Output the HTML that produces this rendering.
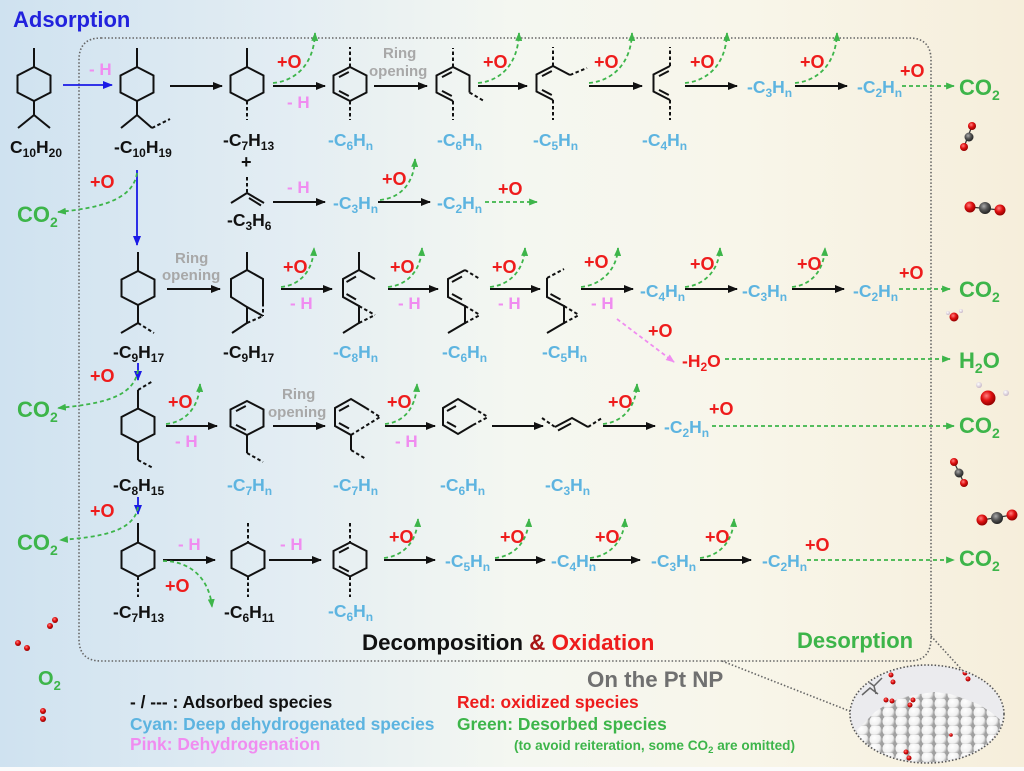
<!DOCTYPE html>
<html><head><meta charset="utf-8"><style>
html,body{margin:0;padding:0;background:#fff}
svg{display:block}
text{font-family:"Liberation Sans",Arial,sans-serif;font-weight:bold}
.k{fill:#111}.r{fill:#ee1c1c}.g{fill:#3db54a}.c{fill:#5db4e0}.p{fill:#f08cf0}.gy{fill:#a8a8a8}
.m{fill:none;stroke:#111;stroke-width:2}
.d{fill:none;stroke:#111;stroke-width:2;stroke-dasharray:3.5 2.5}
.ar{stroke:#111;stroke-width:2;marker-end:url(#mk)}
.gc{fill:none;stroke:#3db54a;stroke-width:1.8;stroke-dasharray:4 3;marker-end:url(#mg)}
</style></head><body>
<svg width="1024" height="771" viewBox="0 0 1024 771" xmlns="http://www.w3.org/2000/svg">
<defs>
<linearGradient id="bg" x1="0" y1="0" x2="1" y2="0">
<stop offset="0" stop-color="#cfe2f0"/><stop offset="0.28" stop-color="#e3edf3"/><stop offset="0.5" stop-color="#f4f7f1"/><stop offset="0.72" stop-color="#f8f6ea"/><stop offset="1" stop-color="#f6eedb"/>
</linearGradient>
<marker id="mk" viewBox="0 0 10 8" refX="9" refY="4" markerWidth="10" markerHeight="8" markerUnits="userSpaceOnUse" orient="auto"><path d="M0,0L10,4L0,8z" fill="#111"/></marker>
<marker id="mb" viewBox="0 0 10 8" refX="9" refY="4" markerWidth="10" markerHeight="8" markerUnits="userSpaceOnUse" orient="auto"><path d="M0,0L10,4L0,8z" fill="#1a1ae6"/></marker>
<marker id="mg" viewBox="0 0 10 8" refX="9" refY="4" markerWidth="9" markerHeight="7" markerUnits="userSpaceOnUse" orient="auto"><path d="M0,0L10,4L0,8z" fill="#3db54a"/></marker>
<marker id="mp" viewBox="0 0 10 8" refX="9" refY="4" markerWidth="9" markerHeight="7" markerUnits="userSpaceOnUse" orient="auto"><path d="M0,0L10,4L0,8z" fill="#f08cf0"/></marker>
<radialGradient id="sg" cx="0.4" cy="0.35" r="0.65"><stop offset="0" stop-color="#ffffff"/><stop offset="0.7" stop-color="#f0f0f0"/><stop offset="1" stop-color="#b0b0b0"/></radialGradient>
<radialGradient id="rg" cx="0.4" cy="0.35" r="0.65"><stop offset="0" stop-color="#ff8080"/><stop offset="0.5" stop-color="#e01010"/><stop offset="1" stop-color="#900000"/></radialGradient>
<radialGradient id="cg" cx="0.4" cy="0.35" r="0.65"><stop offset="0" stop-color="#aaa"/><stop offset="0.5" stop-color="#555"/><stop offset="1" stop-color="#222"/></radialGradient>
<radialGradient id="hg" cx="0.4" cy="0.35" r="0.65"><stop offset="0" stop-color="#fff"/><stop offset="1" stop-color="#c8b8c8"/></radialGradient>
<pattern id="sp" width="13" height="9" patternUnits="userSpaceOnUse" x="856" y="690"><rect width="13" height="9" fill="#a0a0a0"/><circle cx="6.5" cy="4.5" r="6" fill="url(#sg)"/></pattern>
<clipPath id="ec"><ellipse cx="927" cy="714" rx="76" ry="48"/></clipPath>
</defs>

<rect width="1024" height="771" fill="url(#bg)"/>
<rect y="767" width="1024" height="4" fill="#fbfbfb"/>

<!-- dotted frame -->
<path d="M101,38 H909 Q931,38 931,60 V638 Q931,661 909,661 H101 Q79,661 79,639 V60 Q79,38 101,38 Z" fill="none" stroke="#666" stroke-width="1.6" stroke-dasharray="1.5 2"/>
<path d="M931,636 L962,670 M722,661 L852,712" fill="none" stroke="#666" stroke-width="1.6" stroke-dasharray="1.5 2"/>

<!-- Pt NP ellipse -->
<ellipse cx="927" cy="714" rx="77" ry="49" fill="#ebebee"/>
<g clip-path="url(#ec)">
<path d="M852,770 L852,735 L862,725 L875,712 L890,702 L905,697 L920,694 L935,692 L950,694 L965,699 L980,705 L992,713 L1003,722 L1006,770 Z" fill="url(#sp)"/>
<g stroke="#666" stroke-width="1.5" fill="none"><path d="M858,688 L866,680 L874,686 L882,678 M862,695 L870,688 L878,694 M866,680 L866,672 M874,686 L876,694"/></g>
<g fill="url(#rg)"><circle cx="891" cy="675" r="2.5"/><circle cx="893" cy="682" r="2.5"/><circle cx="886" cy="700" r="2.5"/><circle cx="892" cy="701" r="2.5"/><circle cx="913" cy="700" r="2.5"/><circle cx="910" cy="705" r="2.5"/><circle cx="965" cy="673" r="2.5"/><circle cx="968" cy="679" r="2.5"/><circle cx="906" cy="752" r="2.5"/><circle cx="909" cy="758" r="2.5"/><circle cx="992" cy="744" r="2.5"/><circle cx="996" cy="738" r="2.5"/><circle cx="951" cy="735" r="1.8"/></g>
</g>
<ellipse cx="927" cy="714" rx="77" ry="49" fill="none" stroke="#555" stroke-width="1.6" stroke-dasharray="1.5 2"/>

<!-- ===== Headings ===== -->
<text x="13" y="27" font-size="22" fill="#2222dd">Adsorption</text>

<!-- ===== Row 1 ===== -->
<polygon class="m" points="34,67 50.5,75.5 50.5,92.5 34,101 17.5,92.5 17.5,75.5"/>
<path class="m" d="M34,67V48 M34,101V115 L18,128 M34,115 L50,128"/>
<text x="10" y="153" font-size="17.5" class="k">C<tspan dy="4" font-size="12">10</tspan><tspan dy="-4">H</tspan><tspan dy="4" font-size="12">20</tspan></text>

<line x1="63" y1="85" x2="112" y2="85" stroke="#1a1ae6" stroke-width="1.8" marker-end="url(#mb)"/>
<text x="89" y="75" font-size="17" class="p">- H</text>

<polygon class="m" points="137,67 153.5,75.5 153.5,92.5 137,101 120.5,92.5 120.5,75.5"/>
<path class="m" d="M137,67V48 M137,101V115 L121,128 M137,115 L152,128"/>
<path class="d" d="M152,128 L170,119"/>
<text x="114" y="153" font-size="17.5" class="k">-C<tspan dy="4" font-size="12">10</tspan><tspan dy="-4">H</tspan><tspan dy="4" font-size="12">19</tspan></text>

<line class="ar" x1="170" y1="86" x2="222" y2="86"/>

<polygon class="m" points="247,67 263.5,75.5 263.5,92.5 247,101 230.5,92.5 230.5,75.5"/>
<path class="m" d="M247,67V48"/>
<path class="d" d="M247,101V120"/>
<text x="223" y="146" font-size="17.5" class="k">-C<tspan dy="4" font-size="12">7</tspan><tspan dy="-4">H</tspan><tspan dy="4" font-size="12">13</tspan></text>
<text x="241" y="168" font-size="18" class="k">+</text>
<path class="d" d="M247,177V193"/>
<path class="m" d="M247,193 L231,203 M247,193 L264,203 M249,198 L261,205.5"/>
<text x="227" y="226" font-size="17.5" class="k">-C<tspan dy="4" font-size="12">3</tspan><tspan dy="-4">H</tspan><tspan dy="4" font-size="12">6</tspan></text>

<line class="ar" x1="273" y1="86" x2="325" y2="86"/>
<text x="277" y="68" font-size="18" class="r">+O</text>
<text x="287" y="108" font-size="17" class="p">- H</text>
<path class="gc" d="M273,83 C295,81 314,65 315,33"/>

<polygon class="m" points="350,67 366.5,75.5 366.5,92.5 350,101 333.5,92.5 333.5,75.5"/>
<path class="m" d="M339,77.1 L348.8,72 M339,90.9 L348.8,96"/>
<path class="d" d="M350,67V47 M350,101V120"/>
<text x="328" y="146" font-size="17.5" class="c">-C<tspan dy="4" font-size="12">6</tspan><tspan dy="-4">H</tspan><tspan dy="4" font-size="12">n</tspan></text>

<text x="383" y="58" font-size="15" class="gy">Ring</text>
<text x="369" y="76" font-size="15" class="gy">opening</text>
<line class="ar" x1="374" y1="86" x2="427" y2="86"/>

<path class="m" d="M469.5,92.5 L469.5,75.5 L453,67 L436.5,75.5 L436.5,92.5 L453,101 M442,77.1 L451.8,72 M442,90.9 L451.8,96"/>
<path class="d" d="M453,67V48 M453,101V120 M469.5,92.5 L484,101"/>
<text x="437" y="146" font-size="17.5" class="c">-C<tspan dy="4" font-size="12">6</tspan><tspan dy="-4">H</tspan><tspan dy="4" font-size="12">n</tspan></text>

<line class="ar" x1="478" y1="86" x2="527" y2="86"/>
<text x="483" y="68" font-size="18" class="r">+O</text>
<path class="gc" d="M478,83 C500,81 518,65 519,33"/>

<path class="m" d="M570,75 L553,66 L536.5,74.5 L536.5,91.5 L553,100 M542,76.1 L551.8,71 M542,89.9 L551.8,95"/>
<path class="d" d="M553,66V47 M553,100V120 M570,75 L587,68"/>
<text x="533" y="146" font-size="17.5" class="c">-C<tspan dy="4" font-size="12">5</tspan><tspan dy="-4">H</tspan><tspan dy="4" font-size="12">n</tspan></text>

<line class="ar" x1="589" y1="86" x2="642" y2="86"/>
<text x="594" y="68" font-size="18" class="r">+O</text>
<path class="gc" d="M589,83 C611,81 631,65 632,33"/>

<path class="m" d="M670,66 L653.5,74.5 L653.5,91.5 L670,100 M659,76.1 L668.8,71 M659,89.9 L668.8,95"/>
<path class="d" d="M670,66V47 M670,100V120"/>
<text x="642" y="146" font-size="17.5" class="c">-C<tspan dy="4" font-size="12">4</tspan><tspan dy="-4">H</tspan><tspan dy="4" font-size="12">n</tspan></text>

<line class="ar" x1="685" y1="86" x2="737" y2="86"/>
<text x="690" y="68" font-size="18" class="r">+O</text>
<path class="gc" d="M685,83 C707,81 726,65 727,33"/>

<text x="747" y="93" font-size="17.5" class="c">-C<tspan dy="4" font-size="12">3</tspan><tspan dy="-4">H</tspan><tspan dy="4" font-size="12">n</tspan></text>
<line class="ar" x1="795" y1="86" x2="847" y2="86"/>
<text x="800" y="68" font-size="18" class="r">+O</text>
<path class="gc" d="M795,83 C817,81 836,65 837,33"/>

<text x="857" y="93" font-size="17.5" class="c">-C<tspan dy="4" font-size="12">2</tspan><tspan dy="-4">H</tspan><tspan dy="4" font-size="12">n</tspan></text>
<text x="900" y="77" font-size="18" class="r">+O</text>
<path class="gc" d="M902,86 L954,86"/>
<text x="959" y="95" font-size="22" class="g">CO<tspan dy="5" font-size="14">2</tspan></text>

<!-- Row 1b -->
<text x="287" y="193" font-size="17" class="p">- H</text>
<line class="ar" x1="273" y1="202" x2="325" y2="202"/>
<text x="333" y="209" font-size="17.5" class="c">-C<tspan dy="4" font-size="12">3</tspan><tspan dy="-4">H</tspan><tspan dy="4" font-size="12">n</tspan></text>
<line class="ar" x1="378" y1="202" x2="430" y2="202"/>
<text x="382" y="185" font-size="18" class="r">+O</text>
<path class="gc" d="M380,200 C400,198 414,184 415,159"/>
<text x="437" y="209" font-size="17.5" class="c">-C<tspan dy="4" font-size="12">2</tspan><tspan dy="-4">H</tspan><tspan dy="4" font-size="12">n</tspan></text>
<text x="498" y="195" font-size="18" class="r">+O</text>
<path class="gc" d="M485,202 L537,202"/>

<!-- left branch 1 -->
<line x1="137" y1="170" x2="137" y2="245" stroke="#1a1ae6" stroke-width="1.8" marker-end="url(#mb)"/>
<text x="90" y="188" font-size="18" class="r">+O</text>
<path class="gc" d="M137,173 C133,200 100,208 58,212"/>
<text x="17" y="222" font-size="22" class="g">CO<tspan dy="5" font-size="14">2</tspan></text>

<!-- ===== Row 2 ===== -->
<polygon class="m" points="138,271 154.5,279.5 154.5,296.5 138,305 121.5,296.5 121.5,279.5"/>
<path class="m" d="M138,271V252 M138,305V323 L121,333"/>
<path class="d" d="M138,323 L154,333"/>
<text x="113" y="358" font-size="17.5" class="k">-C<tspan dy="4" font-size="12">9</tspan><tspan dy="-4">H</tspan><tspan dy="4" font-size="12">17</tspan></text>

<text x="175" y="263" font-size="15" class="gy">Ring</text>
<text x="162" y="280" font-size="15" class="gy">opening</text>
<line class="ar" x1="167" y1="289" x2="220" y2="289"/>

<path class="m" d="M247,252 V270 L231,279 V297 L247,307 V323 L232,333 M247,270 L263,279 V303 M247,307 L263,316"/>
<path class="d" d="M263,303 V316 M247,323 L263,316"/>
<text x="223" y="358" font-size="17.5" class="k">-C<tspan dy="4" font-size="12">9</tspan><tspan dy="-4">H</tspan><tspan dy="4" font-size="12">17</tspan></text>

<line class="ar" x1="281" y1="289" x2="332" y2="289"/>
<text x="283" y="273" font-size="18" class="r">+O</text>
<text x="290" y="309" font-size="17" class="p">- H</text>
<path class="gc" d="M281,287 C301,285 313,270 314,248"/>

<path class="m" d="M359,252 V270 L375,279 M359,270 L343,279 V297 L359,306 V323 L343,333 M346.5,282 L356,276.5 M346.5,294 L356,299.5"/>
<path class="d" d="M359,306 L375,315 M359,323 L375,315"/>
<text x="333" y="358" font-size="17.5" class="c">-C<tspan dy="4" font-size="12">8</tspan><tspan dy="-4">H</tspan><tspan dy="4" font-size="12">n</tspan></text>

<line class="ar" x1="388" y1="289" x2="438" y2="289"/>
<text x="390" y="273" font-size="18" class="r">+O</text>
<text x="398" y="309" font-size="17" class="p">- H</text>
<path class="gc" d="M388,287 C408,285 421,270 422,248"/>

<path class="m" d="M465,270 L448,279 V297 L465,306 V323 L448,333 M452,282 L462,276.5 M452,294 L462,299.5"/>
<path class="d" d="M465,270 L480,279 M465,306 L480,315 M465,323 L480,315"/>
<text x="442" y="358" font-size="17.5" class="c">-C<tspan dy="4" font-size="12">6</tspan><tspan dy="-4">H</tspan><tspan dy="4" font-size="12">n</tspan></text>

<line class="ar" x1="490" y1="289" x2="540" y2="289"/>
<text x="492" y="273" font-size="18" class="r">+O</text>
<text x="498" y="309" font-size="17" class="p">- H</text>
<path class="gc" d="M490,287 C510,285 524,270 525,248"/>

<path class="m" d="M547,278 V297 L564,306 V323 L547,333 M550.5,294 L560.5,299.5"/>
<path class="d" d="M547,278 L564,269 M564,306 L579,315 M564,323 L579,315"/>
<text x="542" y="358" font-size="17.5" class="c">-C<tspan dy="4" font-size="12">5</tspan><tspan dy="-4">H</tspan><tspan dy="4" font-size="12">n</tspan></text>

<line class="ar" x1="581" y1="289" x2="633" y2="289"/>
<text x="584" y="268" font-size="18" class="r">+O</text>
<text x="591" y="309" font-size="17" class="p">- H</text>
<path class="gc" d="M581,287 C601,285 617,270 618,248"/>

<line x1="617" y1="319" x2="674" y2="362" stroke="#f08cf0" stroke-width="1.8" stroke-dasharray="4 3" marker-end="url(#mp)"/>
<text x="648" y="337" font-size="18" class="r">+O</text>
<text x="682" y="367" font-size="17.5" class="r">-H<tspan dy="4" font-size="12">2</tspan><tspan dy="-4">O</tspan></text>
<path class="gc" d="M725,359 L950,359"/>
<text x="959" y="368" font-size="22" class="g">H<tspan dy="5" font-size="14">2</tspan><tspan dy="-5">O</tspan></text>

<text x="640" y="297" font-size="17.5" class="c">-C<tspan dy="4" font-size="12">4</tspan><tspan dy="-4">H</tspan><tspan dy="4" font-size="12">n</tspan></text>
<line class="ar" x1="685" y1="289" x2="737" y2="289"/>
<text x="690" y="270" font-size="18" class="r">+O</text>
<path class="gc" d="M685,287 C705,285 719,270 720,248"/>

<text x="742" y="297" font-size="17.5" class="c">-C<tspan dy="4" font-size="12">3</tspan><tspan dy="-4">H</tspan><tspan dy="4" font-size="12">n</tspan></text>
<line class="ar" x1="792" y1="289" x2="844" y2="289"/>
<text x="797" y="270" font-size="18" class="r">+O</text>
<path class="gc" d="M792,287 C812,285 824,270 825,248"/>

<text x="853" y="297" font-size="17.5" class="c">-C<tspan dy="4" font-size="12">2</tspan><tspan dy="-4">H</tspan><tspan dy="4" font-size="12">n</tspan></text>
<text x="899" y="279" font-size="18" class="r">+O</text>
<path class="gc" d="M899,289 L950,289"/>
<text x="959" y="297" font-size="22" class="g">CO<tspan dy="5" font-size="14">2</tspan></text>

<!-- ===== Row 3 ===== -->
<line x1="138" y1="363" x2="138" y2="380" stroke="#1a1ae6" stroke-width="1.8" marker-end="url(#mb)"/>
<text x="90" y="382" font-size="18" class="r">+O</text>
<path class="gc" d="M138,370 C134,398 100,404 58,408"/>
<text x="17" y="417" font-size="22" class="g">CO<tspan dy="5" font-size="14">2</tspan></text>

<polygon class="m" points="138,408.5 154.5,417 154.5,434 138,442.5 121.5,434 121.5,417"/>
<path class="m" d="M138,390 V408.5 M138,442.5 V460"/>
<path class="d" d="M138,390 L153,381 M138,460 L153,468"/>
<text x="113" y="491" font-size="17.5" class="k">-C<tspan dy="4" font-size="12">8</tspan><tspan dy="-4">H</tspan><tspan dy="4" font-size="12">15</tspan></text>

<line class="ar" x1="166" y1="426" x2="217" y2="426"/>
<text x="168" y="408" font-size="18" class="r">+O</text>
<text x="175" y="447" font-size="17" class="p">- H</text>
<path class="gc" d="M166,424 C186,422 199,407 200,384"/>

<polygon class="m" points="247,401 263.5,409.5 263.5,426.5 247,435 230.5,426.5 230.5,409.5"/>
<path class="m" d="M236,411.1 L245.8,406 M236,424.9 L245.8,430 M247,435 V453"/>
<path class="d" d="M247,453 L263,462"/>
<text x="227" y="491" font-size="17.5" class="c">-C<tspan dy="4" font-size="12">7</tspan><tspan dy="-4">H</tspan><tspan dy="4" font-size="12">n</tspan></text>

<text x="282" y="399" font-size="15" class="gy">Ring</text>
<text x="268" y="417" font-size="15" class="gy">opening</text>
<line class="ar" x1="273" y1="426" x2="325" y2="426"/>

<path class="m" d="M366,408 L351,399 L335,408 V426 L351,435 V450 M339,411 L349,405.5 M339,423 L349,428.5"/>
<path class="d" d="M366,408 L380,417 M351,435 L380,417 M351,450 L366,459"/>
<text x="333" y="491" font-size="17.5" class="c">-C<tspan dy="4" font-size="12">7</tspan><tspan dy="-4">H</tspan><tspan dy="4" font-size="12">n</tspan></text>

<line class="ar" x1="385" y1="426" x2="435" y2="426"/>
<text x="387" y="408" font-size="18" class="r">+O</text>
<text x="395" y="447" font-size="17" class="p">- H</text>
<path class="gc" d="M385,424 C405,422 416,407 417,384"/>

<path class="m" d="M473,408 L458,399 L443,408 V425 L458,434 L473,425 M447,411 L456,406 M447,422 L456,427"/>
<path class="d" d="M473,408 L488,417 M473,425 L488,417"/>
<text x="440" y="491" font-size="17.5" class="c">-C<tspan dy="4" font-size="12">6</tspan><tspan dy="-4">H</tspan><tspan dy="4" font-size="12">n</tspan></text>

<line class="ar" x1="492" y1="426" x2="543" y2="426"/>

<path class="m" d="M555,427 L572,418 L588,427 M558,430.5 L571,423.5"/>
<path class="d" d="M542,418 L555,427 M588,427 L602,418"/>
<text x="545" y="491" font-size="17.5" class="c">-C<tspan dy="4" font-size="12">3</tspan><tspan dy="-4">H</tspan><tspan dy="4" font-size="12">n</tspan></text>

<line class="ar" x1="603" y1="426" x2="655" y2="426"/>
<text x="608" y="408" font-size="18" class="r">+O</text>
<path class="gc" d="M603,424 C623,422 636,407 637,384"/>

<text x="664" y="433" font-size="17.5" class="c">-C<tspan dy="4" font-size="12">2</tspan><tspan dy="-4">H</tspan><tspan dy="4" font-size="12">n</tspan></text>
<text x="709" y="415" font-size="18" class="r">+O</text>
<path class="gc" d="M712,426 L954,426"/>
<text x="959" y="433" font-size="22" class="g">CO<tspan dy="5" font-size="14">2</tspan></text>

<!-- ===== Row 4 ===== -->
<line x1="138" y1="497" x2="138" y2="514" stroke="#1a1ae6" stroke-width="1.8" marker-end="url(#mb)"/>
<text x="90" y="517" font-size="18" class="r">+O</text>
<path class="gc" d="M138,507 C134,532 100,537 60,540"/>
<text x="17" y="550" font-size="22" class="g">CO<tspan dy="5" font-size="14">2</tspan></text>

<polygon class="m" points="138,542.5 154.5,551 154.5,568 138,576.5 121.5,568 121.5,551"/>
<path class="m" d="M138,523 V542.5"/>
<path class="d" d="M138,576.5 V597"/>
<text x="113" y="618" font-size="17.5" class="k">-C<tspan dy="4" font-size="12">7</tspan><tspan dy="-4">H</tspan><tspan dy="4" font-size="12">13</tspan></text>

<line class="ar" x1="163" y1="560" x2="215" y2="560"/>
<text x="178" y="550" font-size="17" class="p">- H</text>
<text x="165" y="592" font-size="18" class="r">+O</text>
<path class="gc" d="M163,561 C188,561 209,576 212,607"/>

<polygon class="m" points="248,542.5 264.5,551 264.5,568 248,576.5 231.5,568 231.5,551"/>
<path class="d" d="M248,523 V542.5 M248,576.5 V597"/>
<text x="224" y="618" font-size="17.5" class="k">-C<tspan dy="4" font-size="12">6</tspan><tspan dy="-4">H</tspan><tspan dy="4" font-size="12">11</tspan></text>

<line class="ar" x1="269" y1="560" x2="321" y2="560"/>
<text x="280" y="550" font-size="17" class="p">- H</text>

<polygon class="m" points="350,542.5 366.5,551 366.5,568 350,576.5 333.5,568 333.5,551"/>
<path class="m" d="M339,552.6 L348.8,547.5 M339,566.4 L348.8,571.5"/>
<path class="d" d="M350,523 V542.5 M350,576.5 V597"/>
<text x="328" y="617" font-size="17.5" class="c">-C<tspan dy="4" font-size="12">6</tspan><tspan dy="-4">H</tspan><tspan dy="4" font-size="12">n</tspan></text>

<line class="ar" x1="384" y1="560" x2="435" y2="560"/>
<text x="389" y="543" font-size="18" class="r">+O</text>
<path class="gc" d="M384,558 C404,556 417,541 418,519"/>

<text x="445" y="567" font-size="17.5" class="c">-C<tspan dy="4" font-size="12">5</tspan><tspan dy="-4">H</tspan><tspan dy="4" font-size="12">n</tspan></text>
<line class="ar" x1="495" y1="560" x2="545" y2="560"/>
<text x="500" y="543" font-size="18" class="r">+O</text>
<path class="gc" d="M495,558 C515,556 528,541 529,519"/>

<text x="551" y="567" font-size="17.5" class="c">-C<tspan dy="4" font-size="12">4</tspan><tspan dy="-4">H</tspan><tspan dy="4" font-size="12">n</tspan></text>
<line class="ar" x1="590" y1="560" x2="640" y2="560"/>
<text x="595" y="543" font-size="18" class="r">+O</text>
<path class="gc" d="M590,558 C610,556 624,541 625,519"/>

<text x="651" y="567" font-size="17.5" class="c">-C<tspan dy="4" font-size="12">3</tspan><tspan dy="-4">H</tspan><tspan dy="4" font-size="12">n</tspan></text>
<line class="ar" x1="700" y1="560" x2="751" y2="560"/>
<text x="705" y="543" font-size="18" class="r">+O</text>
<path class="gc" d="M700,558 C720,556 733,541 734,519"/>

<text x="762" y="567" font-size="17.5" class="c">-C<tspan dy="4" font-size="12">2</tspan><tspan dy="-4">H</tspan><tspan dy="4" font-size="12">n</tspan></text>
<text x="805" y="551" font-size="18" class="r">+O</text>
<path class="gc" d="M807,560 L954,560"/>
<text x="959" y="566" font-size="22" class="g">CO<tspan dy="5" font-size="14">2</tspan></text>

<!-- ===== molecule icons ===== -->
<g stroke="#333" stroke-width="1.2">
<line x1="972" y1="126" x2="964" y2="147"/><line x1="970" y1="207" x2="1000" y2="210"/>
<line x1="954" y1="462" x2="964" y2="483"/><line x1="982" y1="520" x2="1012" y2="515"/>
</g>
<circle cx="972" cy="126" r="4" fill="url(#rg)"/><circle cx="969" cy="137" r="4.5" fill="url(#cg)"/><circle cx="964" cy="147" r="4" fill="url(#rg)"/>
<circle cx="970" cy="207" r="5.5" fill="url(#rg)"/><circle cx="985" cy="208" r="6" fill="url(#cg)"/><circle cx="1000" cy="210" r="5.5" fill="url(#rg)"/>
<circle cx="954" cy="462" r="4" fill="url(#rg)"/><circle cx="959" cy="473" r="4.5" fill="url(#cg)"/><circle cx="964" cy="483" r="4" fill="url(#rg)"/>
<circle cx="982" cy="520" r="5.5" fill="url(#rg)"/><circle cx="997" cy="518" r="6" fill="url(#cg)"/><circle cx="1012" cy="515" r="5.5" fill="url(#rg)"/>
<circle cx="948" cy="313" r="2" fill="url(#hg)"/><circle cx="961" cy="311" r="2" fill="url(#hg)"/><circle cx="954" cy="317" r="4.5" fill="url(#rg)"/>
<circle cx="979" cy="385" r="3" fill="url(#hg)"/><circle cx="1006" cy="393" r="3" fill="url(#hg)"/><circle cx="988" cy="398" r="7.5" fill="url(#rg)"/>
<circle cx="55" cy="620" r="3" fill="url(#rg)"/><circle cx="50" cy="626" r="3" fill="url(#rg)"/>
<circle cx="18" cy="643" r="3" fill="url(#rg)"/><circle cx="27" cy="648" r="3" fill="url(#rg)"/>
<circle cx="43" cy="711" r="3" fill="url(#rg)"/><circle cx="43" cy="719" r="3" fill="url(#rg)"/>
<text x="38" y="685" font-size="20" class="g">O<tspan dy="5" font-size="13">2</tspan></text>

<!-- ===== bottom labels ===== -->
<text x="362" y="650" font-size="22.3" class="k">Decomposition <tspan fill="#a81515">&amp;</tspan> <tspan fill="#ee1c1c">Oxidation</tspan></text>
<text x="797" y="648" font-size="22" class="g">Desorption</text>
<text x="587" y="687" font-size="22.3" fill="#707070">On the Pt NP</text>

<text x="130" y="708" font-size="17.4" class="k">- / --- : Adsorbed species</text>
<text x="130" y="730" font-size="17.4" class="c">Cyan: Deep dehydrogenated species</text>
<text x="130" y="750" font-size="17.4" class="p">Pink: Dehydrogenation</text>
<text x="457" y="708" font-size="17.4" class="r">Red: oxidized species</text>
<text x="457" y="730" font-size="17.4" class="g">Green: Desorbed species</text>
<text x="514" y="750" font-size="13.6" class="g">(to avoid reiteration, some CO<tspan dy="3" font-size="9.5">2</tspan><tspan dy="-3"> are omitted)</tspan></text>
</svg>
</body></html>
